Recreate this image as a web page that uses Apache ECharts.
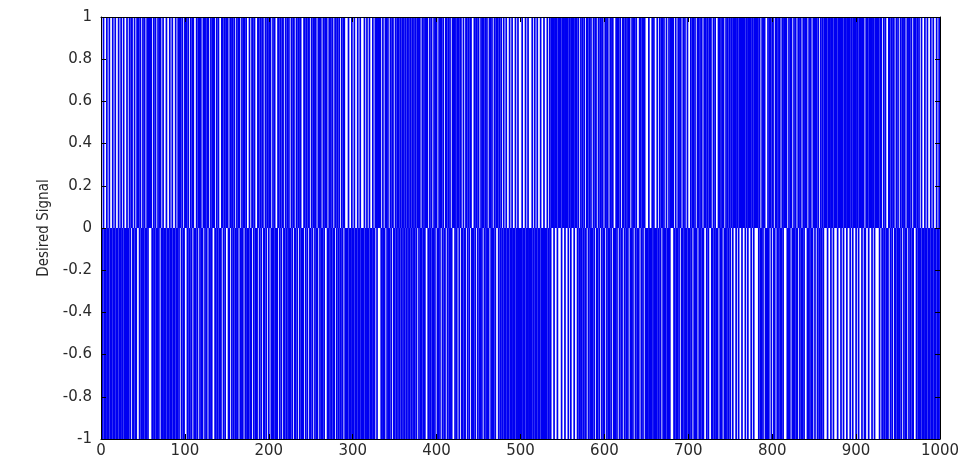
<!DOCTYPE html>
<html>
<head>
<meta charset="utf-8">
<script src="https://cdn.jsdelivr.net/npm/echarts@6/dist/echarts.min.js"></script>
<style>
  html, body { margin: 0; padding: 0; background: #fff; }
  #chart { width: 970px; height: 463px; }
</style>
</head>
<body>
<div id="chart"></div>
<script>
// Desired binary signal (+1 / -1), 1000 samples, written 25 per row
const desiredSignal = [
  -1,-1,1,-1,-1,-1,1,-1,-1,1,-1,-1,-1,1,-1,-1,1,-1,-1,-1,1,-1,-1,1,-1,
  -1,1,-1,-1,-1,1,-1,-1,1,-1,1,1,-1,-1,1,-1,-1,1,1,1,-1,1,-1,-1,1,
  -1,1,-1,-1,1,-1,1,1,1,1,-1,-1,1,-1,1,-1,-1,1,-1,1,1,-1,-1,1,-1,
  -1,-1,1,-1,-1,-1,1,-1,-1,1,-1,-1,-1,1,-1,-1,1,-1,1,1,-1,1,-1,-1,1,
  1,1,-1,1,-1,-1,1,-1,1,1,-1,-1,-1,1,-1,1,1,-1,1,-1,-1,1,1,-1,1,
  -1,1,1,-1,-1,1,-1,1,1,1,-1,-1,1,-1,1,-1,-1,-1,1,1,-1,1,-1,1,1,
  1,-1,-1,1,1,-1,1,-1,1,-1,-1,1,-1,1,1,-1,-1,1,-1,1,1,-1,1,-1,-1,
  -1,1,-1,-1,1,1,-1,1,-1,-1,-1,1,1,-1,1,-1,1,1,-1,-1,1,-1,1,1,-1,
  1,1,-1,-1,1,-1,1,-1,-1,-1,1,1,-1,1,-1,1,1,-1,-1,1,-1,1,-1,1,-1,
  -1,1,-1,1,1,-1,-1,1,-1,1,1,-1,1,-1,-1,-1,1,1,-1,1,-1,1,1,-1,-1,
  1,-1,1,1,-1,1,-1,-1,1,1,-1,1,-1,-1,1,-1,1,1,1,-1,-1,1,-1,1,-1,
  1,-1,-1,1,1,-1,1,-1,1,-1,-1,1,-1,1,1,-1,-1,-1,-1,1,-1,-1,-1,1,-1,
  -1,1,-1,-1,-1,1,-1,-1,1,-1,-1,-1,-1,1,-1,-1,1,-1,-1,1,-1,-1,-1,1,-1,
  -1,1,1,-1,1,1,1,1,-1,-1,1,-1,-1,1,1,-1,1,-1,-1,1,-1,1,1,-1,-1,
  1,-1,1,-1,1,-1,1,-1,1,-1,1,-1,1,-1,1,-1,1,-1,1,-1,1,-1,1,-1,1,
  -1,1,1,-1,1,-1,-1,1,-1,1,-1,1,1,1,-1,-1,1,-1,1,-1,-1,1,-1,1,1,
  -1,-1,1,-1,1,1,-1,1,-1,-1,1,1,-1,1,-1,1,-1,-1,1,1,1,-1,1,-1,1,
  1,-1,1,1,-1,-1,1,-1,-1,1,1,-1,1,-1,1,1,-1,-1,-1,1,-1,1,1,-1,1,
  -1,-1,1,-1,1,1,-1,1,-1,1,-1,-1,1,1,-1,1,-1,-1,1,-1,1,1,1,-1,1,
  -1,1,-1,-1,1,-1,-1,1,-1,-1,-1,1,-1,-1,1,-1,-1,-1,1,-1,-1,1,-1,-1,-1,
  -1,1,-1,-1,-1,1,-1,-1,1,-1,-1,-1,-1,1,-1,-1,1,-1,-1,1,-1,-1,-1,1,-1,
  -1,-1,1,-1,-1,-1,1,-1,-1,1,-1,1,1,1,-1,1,1,1,-1,1,1,1,1,-1,1,
  1,1,-1,1,1,1,-1,1,1,-1,1,1,1,-1,1,1,1,-1,1,-1,-1,1,-1,1,-1,
  1,-1,-1,1,1,-1,1,-1,1,-1,-1,1,-1,1,1,-1,-1,1,-1,1,1,-1,1,-1,-1,
  1,1,-1,1,-1,-1,1,-1,1,1,-1,-1,-1,1,-1,1,1,-1,1,-1,-1,1,1,-1,1,
  -1,1,-1,1,1,-1,-1,1,-1,1,1,-1,1,-1,-1,-1,1,1,-1,1,-1,1,1,-1,-1,
  -1,-1,1,-1,-1,-1,1,-1,1,-1,-1,-1,1,-1,-1,1,-1,1,1,-1,1,-1,-1,1,-1,
  -1,1,-1,1,1,1,1,-1,-1,1,-1,-1,1,-1,1,1,-1,-1,1,-1,1,-1,-1,1,-1,
  -1,-1,1,-1,1,1,-1,1,-1,-1,1,1,-1,1,-1,1,-1,-1,1,1,1,-1,1,-1,1,
  1,1,-1,-1,1,-1,1,-1,-1,-1,1,1,-1,1,-1,1,1,-1,-1,1,-1,1,-1,1,-1,
  1,1,-1,1,1,1,-1,1,1,-1,1,1,1,-1,1,1,1,-1,1,1,-1,1,1,1,-1,
  1,1,-1,1,1,1,1,1,-1,1,-1,-1,1,-1,1,1,-1,-1,-1,1,-1,1,1,-1,1,
  1,-1,-1,1,1,-1,1,-1,1,-1,-1,1,-1,1,1,1,1,-1,-1,1,-1,1,1,-1,-1,
  1,-1,1,-1,-1,1,1,-1,1,-1,-1,1,-1,1,1,1,-1,-1,1,-1,1,-1,-1,1,1,
  -1,1,1,-1,1,-1,-1,1,-1,1,-1,1,1,1,1,-1,1,1,1,-1,1,1,-1,1,1,
  1,1,-1,1,1,1,-1,1,1,-1,1,1,1,-1,1,1,1,-1,1,1,-1,1,1,1,-1,
  1,1,-1,1,1,1,-1,1,1,-1,-1,1,1,1,-1,1,1,1,-1,1,1,-1,1,1,1,
  1,1,-1,1,1,-1,-1,1,-1,1,-1,-1,-1,1,1,-1,1,-1,1,1,-1,-1,1,-1,1,
  -1,-1,1,-1,1,1,-1,1,-1,-1,1,1,-1,1,-1,1,-1,-1,1,1,1,-1,1,-1,1,
  -1,-1,1,-1,-1,-1,1,-1,-1,1,-1,-1,-1,1,-1,-1,1,-1,-1,-1,1,-1,-1,1,-1
];

const xTicks = [0, 100, 200, 300, 400, 500, 600, 700, 800, 900, 1000];
const yTicks = [-1, -0.8, -0.6, -0.4, -0.2, 0, 0.2, 0.4, 0.6, 0.8, 1];
const yTitle = 'Desired Signal';

// sample n (1-based) paired with its value
const barData = desiredSignal.map((v, i) => [i + 1, v]);

const labelFont = "'DejaVu Sans', 'Liberation Sans', sans-serif";
const BAR_PX = 1.7;       // drawn width of each sample bar, in pixels
const BAR_COLOR = '#0000f2';

const chart = echarts.init(document.getElementById('chart'), null, { renderer: 'canvas' });

const frameAxis = {
  axisLine: { show: true, onZero: false, lineStyle: { color: '#000', width: 1 } },
  axisTick: { show: true, inside: true, length: 5, lineStyle: { color: '#000' } },
  splitLine: { show: false },
  z: 10
};

// one rectangle per sample, from 0 to its value, placed by the axes
function renderSample(params, api) {
  const n = api.value(0);
  const v = api.value(1);
  const base = api.coord([n, 0]);
  const top = api.coord([n, v]);
  return {
    type: 'rect',
    shape: {
      x: base[0] - BAR_PX / 2,
      y: Math.min(base[1], top[1]),
      width: BAR_PX,
      height: Math.abs(top[1] - base[1])
    },
    style: { fill: BAR_COLOR }
  };
}

chart.setOption({
  animation: false,
  backgroundColor: '#ffffff',
  grid: { left: 101, right: 30, top: 17, bottom: 24 },
  xAxis: [
    Object.assign({
      type: 'value', position: 'bottom', min: xTicks[0], max: xTicks[xTicks.length - 1], interval: 100,
      axisLabel: {
        show: true, margin: 5, color: '#2a2a2a', fontSize: 15, fontFamily: labelFont,
        formatter: v => String(v)
      }
    }, frameAxis),
    Object.assign({
      type: 'value', position: 'top', min: xTicks[0], max: xTicks[xTicks.length - 1], interval: 100,
      axisLabel: { show: false }
    }, frameAxis)
  ],
  yAxis: [
    Object.assign({
      type: 'value', position: 'left', min: yTicks[0], max: yTicks[yTicks.length - 1], interval: 0.2,
      name: yTitle, nameLocation: 'middle', nameGap: 40, nameRotate: 90,
      nameTextStyle: {
        color: '#2a2a2a', fontSize: 15,
        fontFamily: "'Liberation Sans Narrow', 'DejaVu Sans Condensed', 'Liberation Sans', sans-serif"
      },
      axisLabel: {
        show: true, margin: 9, color: '#2a2a2a', fontSize: 15, fontFamily: labelFont,
        formatter: v => {
          const r = Math.round(v * 10) / 10;
          return r === 0 ? '0' : String(r);
        }
      }
    }, frameAxis),
    Object.assign({
      type: 'value', position: 'right', min: yTicks[0], max: yTicks[yTicks.length - 1], interval: 0.2,
      axisLabel: { show: false }
    }, frameAxis)
  ],
  series: [{
    type: 'custom',
    xAxisIndex: 0,
    yAxisIndex: 0,
    data: barData,
    renderItem: renderSample,
    silent: true,
    z: 2
  }]
});
</script>
</body>
</html>
